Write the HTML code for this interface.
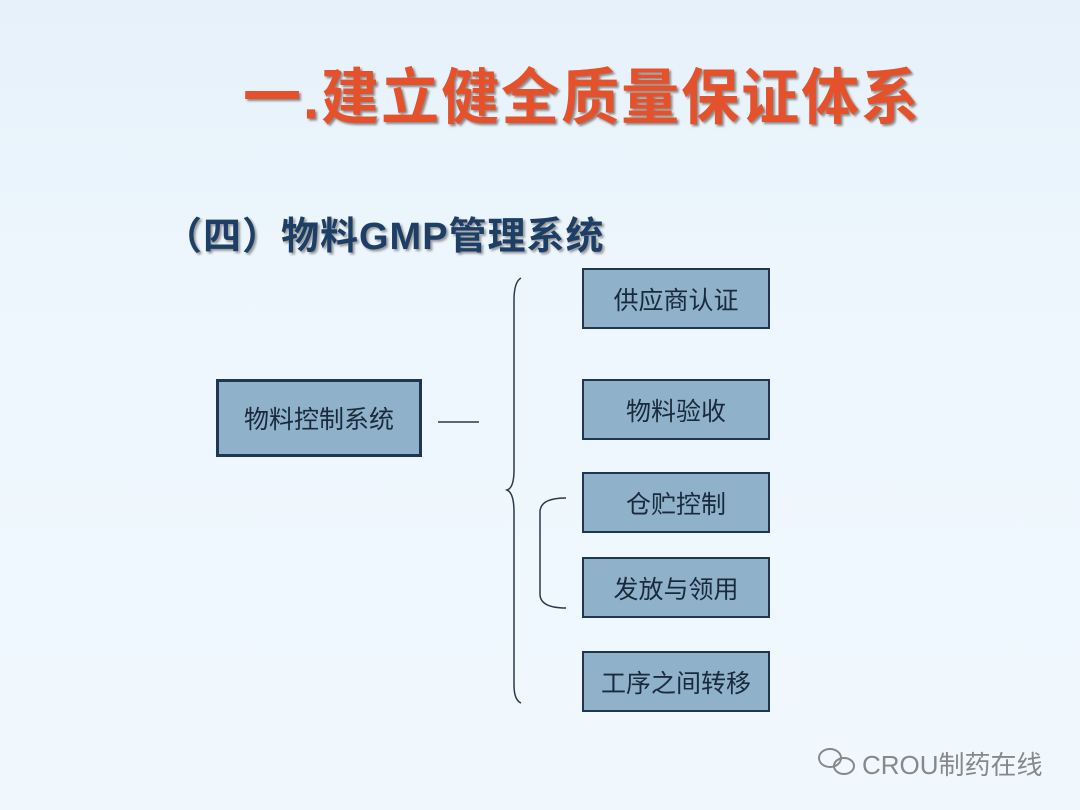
<!DOCTYPE html>
<html><head><meta charset="utf-8"><style>
body{margin:0;width:1080px;height:810px;overflow:hidden;background:linear-gradient(#e6f1fa,#eef7fd 40%,#f0f8fe);font-family:"Liberation Sans","Noto Sans CJK SC",sans-serif;position:relative}
.t{position:absolute;left:243px;top:50px;font-size:58px;font-weight:bold;color:#e5512b;letter-spacing:2px;text-shadow:2px 2px 2px #8a8a8a;white-space:nowrap;transform:scaleY(1.05)}
.s{position:absolute;left:164px;top:205px;font-size:38px;font-weight:bold;color:#1d3f66;text-shadow:2px 2px 2px #999;white-space:nowrap;letter-spacing:1px}
.b{position:absolute;background:#8fb1c9;border:2px solid #1f3550;box-sizing:border-box;display:flex;align-items:center;justify-content:center;font-size:25px;color:#1a2a3c;font-family:"Liberation Sans","Noto Sans CJK SC",sans-serif}
.w{position:absolute;left:862px;top:745px;font-size:26px;color:#888;white-space:nowrap}
</style></head><body>
<div class="t">一.建立健全质量保证体系</div>
<div class="s">（四）物料GMP管理系统</div>
<div class="b" style="left:216px;top:379px;width:206px;height:78px;border-width:3px">物料控制系统</div>
<div class="b" style="left:582px;top:268px;width:188px;height:61px">供应商认证</div>
<div class="b" style="left:582px;top:379px;width:188px;height:61px">物料验收</div>
<div class="b" style="left:582px;top:472px;width:188px;height:61px">仓贮控制</div>
<div class="b" style="left:582px;top:557px;width:188px;height:61px">发放与领用</div>
<div class="b" style="left:582px;top:651px;width:188px;height:61px">工序之间转移</div>
<svg width="1080" height="810" style="position:absolute;left:0;top:0" fill="none" stroke="#2a3a4a" stroke-width="1.5">
<line x1="438" y1="422" x2="479" y2="422"/>
<path d="M521 278 Q514 282 514 300 L514 470 Q514 488 507 490 Q514 493 514 512 L514 685 Q514 700 521 703"/>
<path d="M566 498 Q540 498 540 512 L540 594 Q540 608 566 608"/>
<g stroke="#888" stroke-width="2"><ellipse cx="830" cy="758" rx="11" ry="9"/><ellipse cx="844" cy="766" rx="10" ry="8"/></g>
</svg>
<div class="w">CROU制药在线</div>
</body></html>
